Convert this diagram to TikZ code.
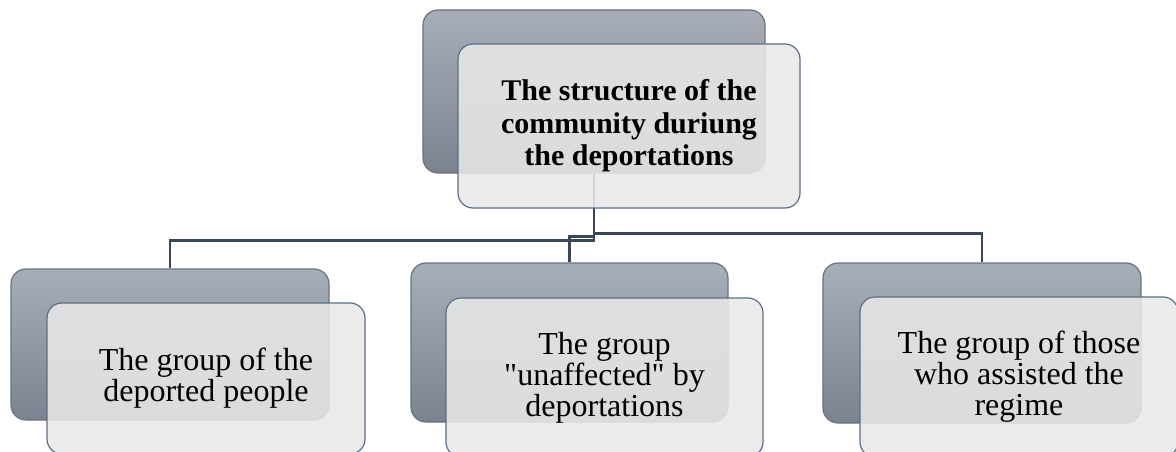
\documentclass[tikz,border=0pt]{standalone}
\usepackage{fontspec}
\setmainfont{Liberation Serif}[Ligatures=TeXOff]
\definecolor{backtop}{HTML}{A8AEB8}
\definecolor{backbot}{HTML}{7C8390}
\definecolor{backline}{HTML}{6A717E}
\definecolor{frontfill}{HTML}{E8E8E8}
\definecolor{frontline}{HTML}{5C6E85}
\definecolor{connc}{HTML}{3A4759}
\tikzset{
  backbox/.style={draw=backline, line width=1.2pt, rounded corners=15pt,
    top color=backtop, bottom color=backbot, inner sep=0pt},
  frontbox/.style={draw=frontline, line width=1.2pt, rounded corners=15pt,
    fill=frontfill, fill opacity=0.88, text opacity=1, inner sep=0pt,
    align=center, text=black},
  conn/.style={draw=connc, line width=2.6pt},
  bigtxt/.style={font=\fontsize{32}{31}\selectfont},
  toptxt/.style={font=\fontsize{30}{32.5}\selectfont\bfseries}
}
\begin{document}
\begin{tikzpicture}[x=1pt,y=-1pt]
\useasboundingbox (0,0) rectangle (1176,452);
% back boxes
\node[backbox, minimum width=342pt, minimum height=163pt] (tb) at (594,91.5) {};
\node[backbox, minimum width=318pt, minimum height=151pt] (lb) at (170,344.5) {};
\node[backbox, minimum width=317pt, minimum height=159pt] (mb) at (569.5,342.5) {};
\node[backbox, minimum width=318pt, minimum height=160pt] (rb) at (982,343) {};
% connectors
\draw[conn] (tb.south) -- ++(0,67) -| (lb.north);
\draw[conn] (tb.south) -- ++(0,63) -| (mb.north);
\draw[conn] (tb.south) -- ++(0,60) -| (rb.north);
% front boxes
\node[frontbox, toptxt, minimum width=342pt, minimum height=164pt] (tf) at (629,126)
  {The structure of the\\community duriung\\the deportations};
\node[frontbox, bigtxt, minimum width=318pt, minimum height=151pt] (lf) at (206,378.5)
  {The group of the\\deported people};
\node[frontbox, bigtxt, minimum width=317pt, minimum height=159pt] (mf) at (604.5,377.5)
  {The group\\"unaffected" by\\deportations};
\node[frontbox, bigtxt, minimum width=318pt, minimum height=160pt] (rf) at (1019,377)
  {The group of those\\who assisted the\\regime};
\end{tikzpicture}
\end{document}
